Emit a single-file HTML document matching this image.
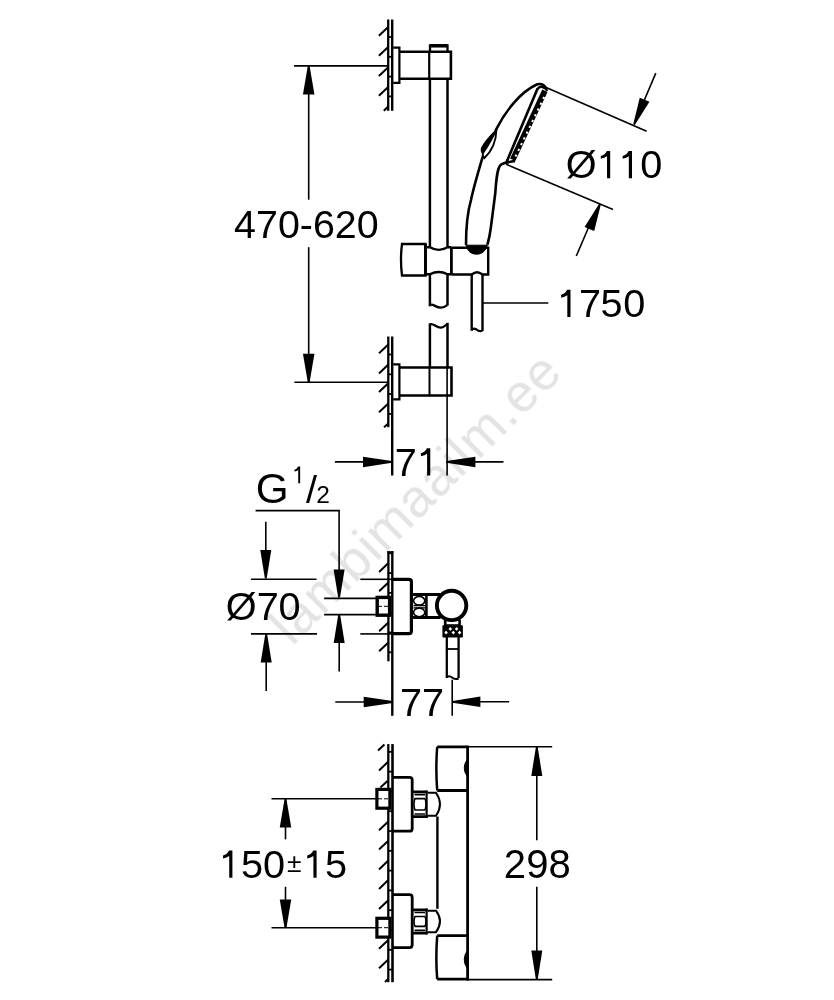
<!DOCTYPE html>
<html><head><meta charset="utf-8"><style>
html,body{margin:0;padding:0;background:#fff;width:834px;height:1000px;overflow:hidden}
svg{display:block;font-family:"Liberation Sans",sans-serif}
text{filter:url(#nf)}
</style></head><body>
<svg width="834" height="1000" viewBox="0 0 834 1000">
<defs><filter id="nf"><feOffset dx="0" dy="0"/></filter></defs>
<rect width="834" height="1000" fill="#fff"/>
<text x="0" y="0" font-size="53" fill="#e3e3e3" letter-spacing="1.0" transform="translate(292.1,646.7) rotate(-45)">lambimaailm.ee</text>
<g stroke-linecap="butt">
<line x1="388.20" y1="19.50" x2="388.20" y2="110.80" stroke="#000" stroke-width="2.3" />
<line x1="392.20" y1="19.50" x2="392.20" y2="110.80" stroke="#000" stroke-width="2.4" />
<line x1="378.90" y1="35.80" x2="388.20" y2="27.00" stroke="#000" stroke-width="2.0" />
<line x1="378.90" y1="55.80" x2="388.20" y2="47.00" stroke="#000" stroke-width="2.0" />
<line x1="378.90" y1="76.00" x2="388.20" y2="67.20" stroke="#000" stroke-width="2.0" />
<line x1="378.90" y1="95.80" x2="388.20" y2="87.00" stroke="#000" stroke-width="2.0" />
<line x1="388.20" y1="37.00" x2="392.20" y2="37.00" stroke="#000" stroke-width="1.8" />
<line x1="388.20" y1="56.80" x2="392.20" y2="56.80" stroke="#000" stroke-width="1.8" />
<line x1="388.20" y1="76.60" x2="392.20" y2="76.60" stroke="#000" stroke-width="1.8" />
<line x1="388.20" y1="96.40" x2="392.20" y2="96.40" stroke="#000" stroke-width="1.8" />
<line x1="383.80" y1="110.80" x2="388.20" y2="106.50" stroke="#000" stroke-width="2.0" />
<line x1="294.00" y1="65.90" x2="389.00" y2="65.90" stroke="#000" stroke-width="1.6" />
<line x1="308.70" y1="66.00" x2="308.70" y2="199.70" stroke="#000" stroke-width="1.6" />
<line x1="308.70" y1="247.20" x2="308.70" y2="382.00" stroke="#000" stroke-width="1.6" />
<polygon points="309.60,66.00 314.45,94.50 302.95,94.50 307.80,66.00" fill="#000"/>
<polygon points="307.80,382.20 302.95,353.70 314.45,353.70 309.60,382.20" fill="#000"/>
<line x1="294.40" y1="382.30" x2="389.00" y2="382.30" stroke="#000" stroke-width="1.6" />
<text x="234.10" y="238.00" font-size="39.4">4</text>
<text x="256.01" y="238.00" font-size="39.4">7</text>
<text x="277.91" y="238.00" font-size="39.4">0</text>
<text x="299.82" y="238.00" font-size="39.4">-</text>
<text x="312.94" y="238.00" font-size="39.4">6</text>
<text x="334.85" y="238.00" font-size="39.4">2</text>
<text x="356.75" y="238.00" font-size="39.4">0</text>
<path d="M393.2,47.6 H399.4 V82.8 H393.2" fill="none" stroke="#000" stroke-width="2.2" />
<path d="M399.2,51.7 H450.9 V78.8 H399.2" fill="none" stroke="#000" stroke-width="2.6" />
<line x1="429.20" y1="51.70" x2="429.20" y2="78.80" stroke="#000" stroke-width="2.2" />
<path d="M430,51 V45.5 H447.5 V51" fill="none" stroke="#000" stroke-width="2.3" />
<line x1="430.00" y1="45.80" x2="447.50" y2="45.80" stroke="#000" stroke-width="3.5" />
<line x1="429.90" y1="78.80" x2="429.90" y2="247.50" stroke="#000" stroke-width="2.5" />
<line x1="447.50" y1="78.80" x2="447.50" y2="247.50" stroke="#000" stroke-width="2.5" />
<line x1="429.90" y1="273.00" x2="429.90" y2="306.30" stroke="#000" stroke-width="2.5" />
<line x1="447.50" y1="273.00" x2="447.50" y2="305.50" stroke="#000" stroke-width="2.5" />
<path d="M429.8,305 C433,303 436,308 441,307.7 C444,307.5 446,306 447.4,305" fill="none" stroke="#000" stroke-width="2.3" />
<path d="M429.8,324.5 C433,322.5 436,327.8 441,327.6 C444,327.4 446,325 447.4,323.8" fill="none" stroke="#000" stroke-width="2.3" />
<line x1="429.90" y1="323.50" x2="429.90" y2="368.00" stroke="#000" stroke-width="2.5" />
<line x1="447.50" y1="322.80" x2="447.50" y2="368.00" stroke="#000" stroke-width="2.5" />
<line x1="388.30" y1="336.50" x2="388.30" y2="427.20" stroke="#000" stroke-width="2.3" />
<line x1="392.20" y1="336.50" x2="392.20" y2="475.50" stroke="#000" stroke-width="2.4" />
<line x1="379.00" y1="353.30" x2="388.30" y2="344.50" stroke="#000" stroke-width="2.0" />
<line x1="379.00" y1="373.40" x2="388.30" y2="364.60" stroke="#000" stroke-width="2.0" />
<line x1="379.00" y1="392.10" x2="388.30" y2="383.30" stroke="#000" stroke-width="2.0" />
<line x1="379.00" y1="412.30" x2="388.30" y2="403.50" stroke="#000" stroke-width="2.0" />
<line x1="388.30" y1="354.50" x2="392.20" y2="354.50" stroke="#000" stroke-width="1.8" />
<line x1="388.30" y1="374.30" x2="392.20" y2="374.30" stroke="#000" stroke-width="1.8" />
<line x1="388.30" y1="394.10" x2="392.20" y2="394.10" stroke="#000" stroke-width="1.8" />
<line x1="388.30" y1="413.90" x2="392.20" y2="413.90" stroke="#000" stroke-width="1.8" />
<line x1="384.00" y1="427.20" x2="388.30" y2="423.50" stroke="#000" stroke-width="2.0" />
<path d="M393.2,364.3 H399.4 V399.3 H393.2" fill="none" stroke="#000" stroke-width="2.2" />
<path d="M399.2,367.5 H451.5 V395.5 H399.2" fill="none" stroke="#000" stroke-width="2.6" />
<line x1="429.50" y1="367.50" x2="429.50" y2="395.50" stroke="#000" stroke-width="2.0" />
<line x1="447.10" y1="367.50" x2="447.10" y2="475.50" stroke="#000" stroke-width="1.6" />
<line x1="334.90" y1="461.90" x2="392.00" y2="461.90" stroke="#000" stroke-width="1.6" />
<polygon points="392.00,462.80 363.00,467.15 363.00,456.65 392.00,461.00" fill="#000"/>
<line x1="446.40" y1="461.90" x2="503.50" y2="461.90" stroke="#000" stroke-width="1.6" />
<polygon points="446.40,461.00 475.40,456.65 475.40,467.15 446.40,462.80" fill="#000"/>
<text x="394.70" y="475.60" font-size="39.7">7</text>
<path d="M430.27,448.29 V475.60 H427.10 V453.77 Q424.71,455.75 420.90,456.23 V453.29 Q425.11,452.38 426.90,448.29 Z" fill="#000"/>
<path d="M402,244 Q400,259.5 402,275.5 H425.5 V244 Z" fill="none" stroke="#000" stroke-width="2.3" />
<line x1="425.50" y1="244.00" x2="425.50" y2="275.50" stroke="#000" stroke-width="3.0" />
<path d="M425.5,247.3 H429.9 Q438.7,252.5 447.5,247.3 H451.4" fill="none" stroke="#000" stroke-width="2.4" />
<path d="M425.5,274.3 H429.9 Q438.7,269.8 447.5,274.3 H451.4" fill="none" stroke="#000" stroke-width="2.4" />
<line x1="451.40" y1="247.30" x2="451.40" y2="274.50" stroke="#000" stroke-width="2.8" />
<path d="M451.4,247.8 H488.2 V274.5 H482.4 Q477,270 471.8,274.5 H451.4" fill="none" stroke="#000" stroke-width="2.4" />
<path d="M466,245.2 C467.5,251.5 471.5,254.2 476.5,254.2 C481.5,254.2 485.5,251.5 487.3,245.2 Z" fill="#000" stroke="#000" stroke-width="1.0" />
<line x1="471.70" y1="274.00" x2="471.70" y2="330.80" stroke="#000" stroke-width="2.4" />
<line x1="482.50" y1="274.00" x2="482.50" y2="331.00" stroke="#000" stroke-width="2.4" />
<path d="M471.7,329.8 C473,328.3 475,328.5 476.5,329.5 C478,331 480,331.5 482.5,330.8" fill="none" stroke="#000" stroke-width="2.2" />
<line x1="482.50" y1="303.00" x2="548.30" y2="303.00" stroke="#000" stroke-width="1.6" />
<path d="M570.50,289.79 V317.10 H567.32 V295.27 Q564.94,297.25 561.13,297.73 V294.79 Q565.34,293.88 567.12,289.79 Z" fill="#000"/>
<text x="579.00" y="317.10" font-size="39.7">7</text>
<text x="600.40" y="317.10" font-size="39.7">5</text>
<text x="623.20" y="317.10" font-size="39.7">0</text>
<path d="M466,245 C466,232 467.5,212 471,200 C474,186 480,166 483,155.8" fill="none" stroke="#000" stroke-width="2.6" />
<path d="M495.8,130.2 L496.6,128.6 C505,112 520,92 537.3,84.3 C542,83 546,86 546.7,89.9" fill="none" stroke="#000" stroke-width="2.6" stroke-linecap="round"/>
<path d="M487.4,244.8 C489,239 490,234 490.8,228 L495.3,193 C496.2,180 497,169 500.5,165 C503.5,162.5 510,161.8 515,161" fill="none" stroke="#000" stroke-width="2.6" />
<path d="M496.4,130 C496.2,140 492,151 484.2,158.2 C482.8,156.5 482.4,154.5 482.8,152.8" fill="none" stroke="#000" stroke-width="1.9" />
<path d="M496.8,129.2 C491,135 484.5,141.5 481.6,148 C481,150.5 481.8,152.8 483,153.6 C487.5,147 492.5,139 496.8,129.2 Z" fill="#000" stroke="#000" stroke-width="1.2" />
<line x1="537.60" y1="88.50" x2="506.50" y2="162.20" stroke="#000" stroke-width="2.6" />
<line x1="544.90" y1="90.80" x2="512.70" y2="159.80" stroke="#000" stroke-width="5.8" />
<path d="M537.2,89.5 Q540,84.5 545.5,88.5" fill="none" stroke="#000" stroke-width="2.4" />
<path d="M544.2,97 L515.5,156.5" fill="none" stroke="#fff" stroke-width="2.0" stroke-dasharray="2.2 4.2"/>
<line x1="545.60" y1="87.30" x2="646.60" y2="131.30" stroke="#000" stroke-width="1.6" />
<line x1="506.20" y1="164.30" x2="613.00" y2="209.60" stroke="#000" stroke-width="1.6" />
<line x1="655.80" y1="73.10" x2="641.00" y2="108.00" stroke="#000" stroke-width="1.6" />
<polygon points="633.17,124.25 639.78,97.71 649.43,101.83 634.83,124.95" fill="#000"/>
<line x1="576.30" y1="256.00" x2="590.00" y2="224.00" stroke="#000" stroke-width="1.6" />
<polygon points="600.83,204.55 594.22,231.09 584.57,226.97 599.17,203.85" fill="#000"/>
<text x="565.70" y="178.20" font-size="39.7">Ø</text>
<path d="M610.20,150.89 V178.20 H607.02 V156.36 Q604.64,158.35 600.83,158.83 V155.89 Q605.04,154.98 606.82,150.89 Z" fill="#000"/>
<path d="M632.00,150.89 V178.20 H628.82 V156.36 Q626.44,158.35 622.63,158.83 V155.89 Q626.84,154.98 628.62,150.89 Z" fill="#000"/>
<text x="640.20" y="178.20" font-size="39.7">0</text>
<text x="255.70" y="503.40" font-size="42.3" >G</text>
<path d="M300.16,466.58 V483.30 H298.22 V469.94 Q296.76,471.15 294.43,471.44 V469.64 Q297.00,469.08 298.10,466.58 Z" fill="#000"/>
<text x="306.00" y="503.00" font-size="39.7" >/</text>
<text x="316.20" y="502.80" font-size="24.5" >2</text>
<path d="M255.6,510.6 H339.1 V597" fill="none" stroke="#000" stroke-width="1.6" />
<polygon points="338.20,597.50 333.60,569.50 344.60,569.50 340.00,597.50" fill="#000"/>
<line x1="265.80" y1="521.80" x2="265.80" y2="552.00" stroke="#000" stroke-width="1.6" />
<polygon points="264.90,578.60 260.30,550.10 271.30,550.10 266.70,578.60" fill="#000"/>
<line x1="251.00" y1="579.30" x2="316.50" y2="579.30" stroke="#000" stroke-width="1.6" />
<line x1="360.30" y1="579.30" x2="392.00" y2="579.30" stroke="#000" stroke-width="1.6" />
<text x="225.80" y="620.20" font-size="39.7">Ø</text>
<text x="256.80" y="620.20" font-size="39.7">7</text>
<text x="278.40" y="620.20" font-size="39.7">0</text>
<line x1="251.00" y1="633.90" x2="317.00" y2="633.90" stroke="#000" stroke-width="1.6" />
<line x1="360.30" y1="633.90" x2="392.00" y2="633.90" stroke="#000" stroke-width="1.6" />
<polygon points="267.10,633.90 271.70,662.40 260.70,662.40 265.30,633.90" fill="#000"/>
<line x1="266.20" y1="660.00" x2="266.20" y2="690.90" stroke="#000" stroke-width="1.6" />
<line x1="324.10" y1="598.40" x2="376.00" y2="598.40" stroke="#000" stroke-width="1.6" />
<line x1="324.10" y1="614.60" x2="376.00" y2="614.60" stroke="#000" stroke-width="1.6" />
<polygon points="340.10,614.60 344.70,643.10 333.70,643.10 338.30,614.60" fill="#000"/>
<line x1="339.20" y1="640.00" x2="339.20" y2="671.60" stroke="#000" stroke-width="1.6" />
<line x1="388.40" y1="551.30" x2="388.40" y2="661.30" stroke="#000" stroke-width="2.3" />
<line x1="392.30" y1="551.30" x2="392.30" y2="715.80" stroke="#000" stroke-width="2.4" />
<line x1="387.25" y1="552.10" x2="393.50" y2="552.10" stroke="#000" stroke-width="1.8" />
<line x1="379.10" y1="571.90" x2="388.40" y2="563.10" stroke="#000" stroke-width="2.0" />
<line x1="379.10" y1="591.30" x2="388.40" y2="582.50" stroke="#000" stroke-width="2.0" />
<line x1="379.10" y1="631.30" x2="388.40" y2="622.50" stroke="#000" stroke-width="2.0" />
<line x1="379.10" y1="651.30" x2="388.40" y2="642.50" stroke="#000" stroke-width="2.0" />
<line x1="388.40" y1="553.30" x2="392.30" y2="553.30" stroke="#000" stroke-width="1.8" />
<line x1="388.40" y1="573.10" x2="392.30" y2="573.10" stroke="#000" stroke-width="1.8" />
<line x1="388.40" y1="592.90" x2="392.30" y2="592.90" stroke="#000" stroke-width="1.8" />
<line x1="388.40" y1="612.70" x2="392.30" y2="612.70" stroke="#000" stroke-width="1.8" />
<line x1="388.40" y1="632.50" x2="392.30" y2="632.50" stroke="#000" stroke-width="1.8" />
<line x1="388.40" y1="652.30" x2="392.30" y2="652.30" stroke="#000" stroke-width="1.8" />
<rect x="377.2" y="597.4" width="12.4" height="17.8" fill="#fff" stroke="#000" stroke-width="3.4"/>
<path d="M378,606.3 H390" fill="none" stroke="#000" stroke-width="1.0" stroke-dasharray="4 2"/>
<path d="M393,579.4 H408.9 Q411.4,579.4 411.4,582 V631 Q411.4,633.6 408.9,633.6 H393" fill="none" stroke="#000" stroke-width="3.2" />
<path d="M411.4,594.5 H440.6 M411.4,617.5 H440.6" fill="none" stroke="#000" stroke-width="3.0" />
<ellipse cx="419.2" cy="600.8" rx="5.6" ry="4.3" fill="none" stroke="#000" stroke-width="1.6"/><ellipse cx="419.2" cy="612.4" rx="5.6" ry="4.3" fill="none" stroke="#000" stroke-width="1.6"/>
<line x1="413.50" y1="605.60" x2="425.00" y2="605.60" stroke="#000" stroke-width="1.4" />
<line x1="413.50" y1="607.90" x2="425.00" y2="607.90" stroke="#000" stroke-width="1.4" />
<line x1="426.40" y1="594.50" x2="426.40" y2="617.50" stroke="#000" stroke-width="2.6" />
<circle cx="451.6" cy="605.4" r="14.7" fill="#fff" stroke="#000" stroke-width="3.9"/>
<path d="M445.2,619.5 V626 M459.6,619.5 V626" fill="none" stroke="#000" stroke-width="2.6" />
<line x1="445.00" y1="625.00" x2="460.00" y2="625.00" stroke="#000" stroke-width="1.6" />
<rect x="442.4" y="625.3" width="20.5" height="12.2" rx="0.8" fill="#000"/>
<path d="M450.3,627.1 L452.1,628.9 L450.3,630.6999999999999 L448.5,628.9 Z" fill="#fff"/>
<path d="M456.6,627.1 L458.40000000000003,628.9 L456.6,630.6999999999999 L454.8,628.9 Z" fill="#fff"/>
<path d="M446.1,630.8000000000001 L447.90000000000003,632.6 L446.1,634.4 L444.3,632.6 Z" fill="#fff"/>
<path d="M453.3,630.8000000000001 L455.1,632.6 L453.3,634.4 L451.5,632.6 Z" fill="#fff"/>
<path d="M459.6,630.8000000000001 L461.40000000000003,632.6 L459.6,634.4 L457.8,632.6 Z" fill="#fff"/>
<line x1="446.80" y1="637.00" x2="446.80" y2="678.00" stroke="#000" stroke-width="2.3" />
<line x1="458.60" y1="637.00" x2="458.60" y2="678.00" stroke="#000" stroke-width="2.3" />
<line x1="446.80" y1="649.00" x2="458.60" y2="649.00" stroke="#000" stroke-width="1.8" />
<path d="M446.8,677.5 Q449,675 452,677.5 T458.6,678.5" fill="none" stroke="#000" stroke-width="2.0" />
<line x1="452.20" y1="679.80" x2="452.20" y2="715.80" stroke="#000" stroke-width="1.6" />
<line x1="335.30" y1="702.00" x2="392.70" y2="702.00" stroke="#000" stroke-width="1.6" />
<polygon points="392.70,702.90 363.70,707.25 363.70,696.75 392.70,701.10" fill="#000"/>
<line x1="452.40" y1="701.80" x2="509.10" y2="701.80" stroke="#000" stroke-width="1.6" />
<polygon points="452.40,700.90 480.40,696.55 480.40,707.05 452.40,702.70" fill="#000"/>
<text x="399.90" y="715.50" font-size="39.7">7</text>
<text x="422.00" y="715.50" font-size="39.7">7</text>
<line x1="388.30" y1="744.10" x2="388.30" y2="982.20" stroke="#000" stroke-width="2.3" />
<line x1="392.50" y1="744.10" x2="392.50" y2="982.20" stroke="#000" stroke-width="2.6" />
<line x1="379.00" y1="770.40" x2="388.30" y2="761.60" stroke="#000" stroke-width="2.0" />
<line x1="379.00" y1="830.20" x2="388.30" y2="821.40" stroke="#000" stroke-width="2.0" />
<line x1="379.00" y1="849.60" x2="388.30" y2="840.80" stroke="#000" stroke-width="2.0" />
<line x1="379.00" y1="869.40" x2="388.30" y2="860.60" stroke="#000" stroke-width="2.0" />
<line x1="379.00" y1="888.90" x2="388.30" y2="880.10" stroke="#000" stroke-width="2.0" />
<line x1="379.00" y1="909.10" x2="388.30" y2="900.30" stroke="#000" stroke-width="2.0" />
<line x1="379.00" y1="948.70" x2="388.30" y2="939.90" stroke="#000" stroke-width="2.0" />
<line x1="379.00" y1="968.20" x2="388.30" y2="959.40" stroke="#000" stroke-width="2.0" />
<line x1="388.30" y1="751.80" x2="392.50" y2="751.80" stroke="#000" stroke-width="1.8" />
<line x1="388.30" y1="771.60" x2="392.50" y2="771.60" stroke="#000" stroke-width="1.8" />
<line x1="388.30" y1="791.40" x2="392.50" y2="791.40" stroke="#000" stroke-width="1.8" />
<line x1="388.30" y1="811.20" x2="392.50" y2="811.20" stroke="#000" stroke-width="1.8" />
<line x1="388.30" y1="831.00" x2="392.50" y2="831.00" stroke="#000" stroke-width="1.8" />
<line x1="388.30" y1="850.80" x2="392.50" y2="850.80" stroke="#000" stroke-width="1.8" />
<line x1="388.30" y1="870.60" x2="392.50" y2="870.60" stroke="#000" stroke-width="1.8" />
<line x1="388.30" y1="890.40" x2="392.50" y2="890.40" stroke="#000" stroke-width="1.8" />
<line x1="388.30" y1="910.20" x2="392.50" y2="910.20" stroke="#000" stroke-width="1.8" />
<line x1="388.30" y1="930.00" x2="392.50" y2="930.00" stroke="#000" stroke-width="1.8" />
<line x1="388.30" y1="949.80" x2="392.50" y2="949.80" stroke="#000" stroke-width="1.8" />
<line x1="388.30" y1="969.60" x2="392.50" y2="969.60" stroke="#000" stroke-width="1.8" />
<line x1="378.00" y1="750.60" x2="384.40" y2="744.60" stroke="#000" stroke-width="2.0" />
<line x1="380.40" y1="787.60" x2="387.50" y2="781.10" stroke="#000" stroke-width="2.0" />
<line x1="385.00" y1="982.00" x2="388.30" y2="978.80" stroke="#000" stroke-width="2.0" />
<line x1="271.50" y1="798.80" x2="376.00" y2="798.80" stroke="#000" stroke-width="1.6" />
<rect x="376.9" y="789.4" width="13" height="18.8" fill="#fff" stroke="#000" stroke-width="3.2"/>
<path d="M378,798.8 H390" fill="none" stroke="#000" stroke-width="1.0" stroke-dasharray="4 2"/>
<path d="M393,777.4000000000001 H409.5 Q412.2,777.4000000000001 412.2,780.2 V828.4 Q412.2,831.1999999999999 409.5,831.1999999999999 H393" fill="none" stroke="#000" stroke-width="2.8" />
<path d="M412.2,791.9 H427.6 M412.2,816.7 H427.6" fill="none" stroke="#000" stroke-width="2.7" />
<line x1="426.60" y1="790.60" x2="426.60" y2="818.00" stroke="#000" stroke-width="2.2" />
<path d="M414.5,794.6 h10.5 M414.5,798.6 h10.5 M414.5,810 h10.5 M414.5,814 h10.5" fill="none" stroke="#000" stroke-width="1.6" />
<path d="M415,798.6 Q413,804.3 415,810 M425,798.6 Q427,804.3 425,810" fill="none" stroke="#000" stroke-width="1.5" />
<path d="M427.6,792.8000000000001 H436 Q444,804.3 436,815.8 H427.6" fill="none" stroke="#000" stroke-width="2.0" />
<line x1="271.50" y1="927.70" x2="376.00" y2="927.70" stroke="#000" stroke-width="1.6" />
<rect x="376.9" y="918.3" width="13" height="18.8" fill="#fff" stroke="#000" stroke-width="3.2"/>
<path d="M378,927.7 H390" fill="none" stroke="#000" stroke-width="1.0" stroke-dasharray="4 2"/>
<path d="M393,894.6 H409.5 Q412.2,894.6 412.2,897.4 V944.8 Q412.2,947.5999999999999 409.5,947.5999999999999 H393" fill="none" stroke="#000" stroke-width="2.8" />
<path d="M412.2,909.8 H427.6 M412.2,933.1 H427.6" fill="none" stroke="#000" stroke-width="2.7" />
<line x1="426.60" y1="908.50" x2="426.60" y2="934.40" stroke="#000" stroke-width="2.2" />
<path d="M414.5,912.5 h10.5 M414.5,916.5 h10.5 M414.5,926.4 h10.5 M414.5,930.4 h10.5" fill="none" stroke="#000" stroke-width="1.6" />
<path d="M415,916.5 Q413,921.45 415,926.4 M425,916.5 Q427,921.45 425,926.4" fill="none" stroke="#000" stroke-width="1.5" />
<path d="M427.6,910.7 H436 Q444,921.45 436,932.1999999999999 H427.6" fill="none" stroke="#000" stroke-width="2.0" />
<path d="M437.2,746.9 H467.5 M437.2,790.5 H467.5 M437.2,935.6 H467.5 M437.2,979.2 H467.5" fill="none" stroke="#000" stroke-width="2.8" />
<path d="M437.2,746.9 Q435.5,768 437.2,790.5" fill="none" stroke="#000" stroke-width="2.5" />
<path d="M437.2,935.6 Q435.5,958 437.2,979.2" fill="none" stroke="#000" stroke-width="2.5" />
<line x1="437.40" y1="816.50" x2="437.40" y2="908.80" stroke="#000" stroke-width="2.4" />
<line x1="467.60" y1="745.60" x2="467.60" y2="980.50" stroke="#000" stroke-width="2.8" />
<path d="M467,759.8 Q461.5,768 467,776 Z" fill="#000" stroke="#000" stroke-width="1.0" />
<path d="M467,951 Q461.5,959.5 467,968.2 Z" fill="#000" stroke="#000" stroke-width="1.0" />
<line x1="467.00" y1="746.80" x2="552.20" y2="746.80" stroke="#000" stroke-width="1.6" />
<line x1="467.00" y1="979.60" x2="552.20" y2="979.60" stroke="#000" stroke-width="1.6" />
<line x1="536.80" y1="747.00" x2="536.80" y2="840.30" stroke="#000" stroke-width="1.6" />
<line x1="536.80" y1="886.80" x2="536.80" y2="979.00" stroke="#000" stroke-width="1.6" />
<polygon points="537.70,747.00 542.30,776.00 531.30,776.00 535.90,747.00" fill="#000"/>
<polygon points="535.90,979.60 531.30,950.60 542.30,950.60 537.70,979.60" fill="#000"/>
<text x="503.70" y="877.50" font-size="40">2</text>
<text x="526.30" y="877.50" font-size="40">9</text>
<text x="548.60" y="877.50" font-size="40">8</text>
<line x1="285.50" y1="799.00" x2="285.50" y2="839.40" stroke="#000" stroke-width="1.6" />
<line x1="285.50" y1="886.80" x2="285.50" y2="927.90" stroke="#000" stroke-width="1.6" />
<polygon points="286.40,799.00 291.25,827.50 279.75,827.50 284.60,799.00" fill="#000"/>
<polygon points="284.60,927.90 279.75,899.40 291.25,899.40 286.40,927.90" fill="#000"/>
<path d="M232.40,850.49 V877.80 H229.22 V855.96 Q226.84,857.95 223.03,858.43 V855.49 Q227.24,854.58 229.02,850.49 Z" fill="#000"/>
<text x="240.90" y="877.80" font-size="39.7">5</text>
<text x="262.90" y="877.80" font-size="39.7">0</text>
<text x="287.00" y="872.10" font-size="26.5" >±</text>
<path d="M316.60,850.49 V877.80 H313.42 V855.96 Q311.04,857.95 307.23,858.43 V855.49 Q311.44,854.58 313.22,850.49 Z" fill="#000"/>
<text x="325.10" y="877.80" font-size="39.7">5</text>
</g>
</svg></body></html>
